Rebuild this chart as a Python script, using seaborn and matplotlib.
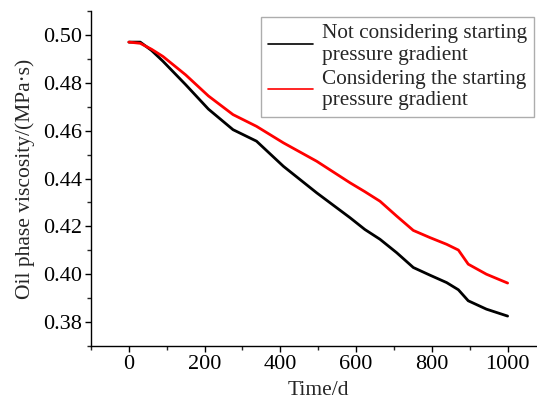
import numpy as np
import pandas as pd
import seaborn as sns
import matplotlib.pyplot as plt
from matplotlib.ticker import MultipleLocator

# values
time_d = [0, 30, 60, 90, 150, 210, 275, 337, 408, 496, 584, 623, 663, 707, 751, 795, 839, 870, 896, 944, 1000]
visc_no_grad = [0.497, 0.497, 0.4935, 0.489, 0.4792, 0.469, 0.4604, 0.4556, 0.4451, 0.434, 0.4236, 0.4187,
                0.4146, 0.409, 0.4028, 0.3996, 0.3965, 0.3935, 0.3889, 0.3854, 0.3825]
visc_grad = [0.497, 0.4965, 0.494, 0.491, 0.4833, 0.4745, 0.4667, 0.4618, 0.4549, 0.4472, 0.4382, 0.4345,
             0.4305, 0.4243, 0.4183, 0.4153, 0.4125, 0.4101, 0.4042, 0.400, 0.3963]
labels = ["Not considering starting\npressure gradient",
          "Considering the starting\npressure gradient"]
colors = ["black", "red"]

df = pd.concat([
    pd.DataFrame({"t": time_d, "v": visc_no_grad, "case": labels[0]}),
    pd.DataFrame({"t": time_d, "v": visc_grad, "case": labels[1]}),
])

sns.set_style("ticks")
plt.rcParams['font.family'] = ['Liberation Serif', 'DejaVu Serif']

fig = plt.figure(figsize=(5.37, 3.99), dpi=100)
ax = fig.add_axes([91 / 537, 53 / 399, 454.5 / 537, 335 / 399])

sns.lineplot(data=df, x="t", y="v", hue="case", palette=dict(zip(labels, colors)),
             linewidth=2.0, ax=ax, sort=False)

ax.set_xlim(-100, 1100)
ax.set_ylim(0.37, 0.51)
ax.xaxis.set_minor_locator(MultipleLocator(100))
ax.yaxis.set_minor_locator(MultipleLocator(0.01))
ax.set_xticks([0, 200, 400, 600, 800, 1000])
ax.set_xticklabels(['0', '200', '400', '600', '800', '1000'])
ax.set_yticks([0.38, 0.40, 0.42, 0.44, 0.46, 0.48, 0.50])
ax.set_yticklabels(['0.38', '0.40', '0.42', '0.44', '0.46', '0.48', '0.50'])
ax.tick_params(which='major', direction='out', length=4.5, width=1, labelsize=16, pad=2, colors='black')
ax.tick_params(which='minor', direction='out', length=2.7, width=1)
for s in ['top', 'right']:
    ax.spines[s].set_visible(False)
for s in ['left', 'bottom']:
    ax.spines[s].set_linewidth(1)
    ax.spines[s].set_color('black')

ax.set_xlabel('Time/d', fontsize=15.5, labelpad=5)
ax.set_ylabel('Oil phase viscosity/(MPa·s)', fontsize=15.5, labelpad=6)

leg = ax.legend(loc='upper left', bbox_to_anchor=(261 / 537, 1 - 17 / 399), bbox_transform=fig.transFigure,
                fontsize=15.3, frameon=True, fancybox=False, handlelength=2.1, handletextpad=0.4,
                labelspacing=0.25, borderpad=0.35, borderaxespad=0)
leg.get_frame().set_edgecolor('#999999')
leg.get_frame().set_linewidth(1)
for t in leg.get_texts():
    t.set_linespacing(1.15)
for line in leg.get_lines():
    line.set_linewidth(1.2)

fig.savefig('out.png', dpi=100)
